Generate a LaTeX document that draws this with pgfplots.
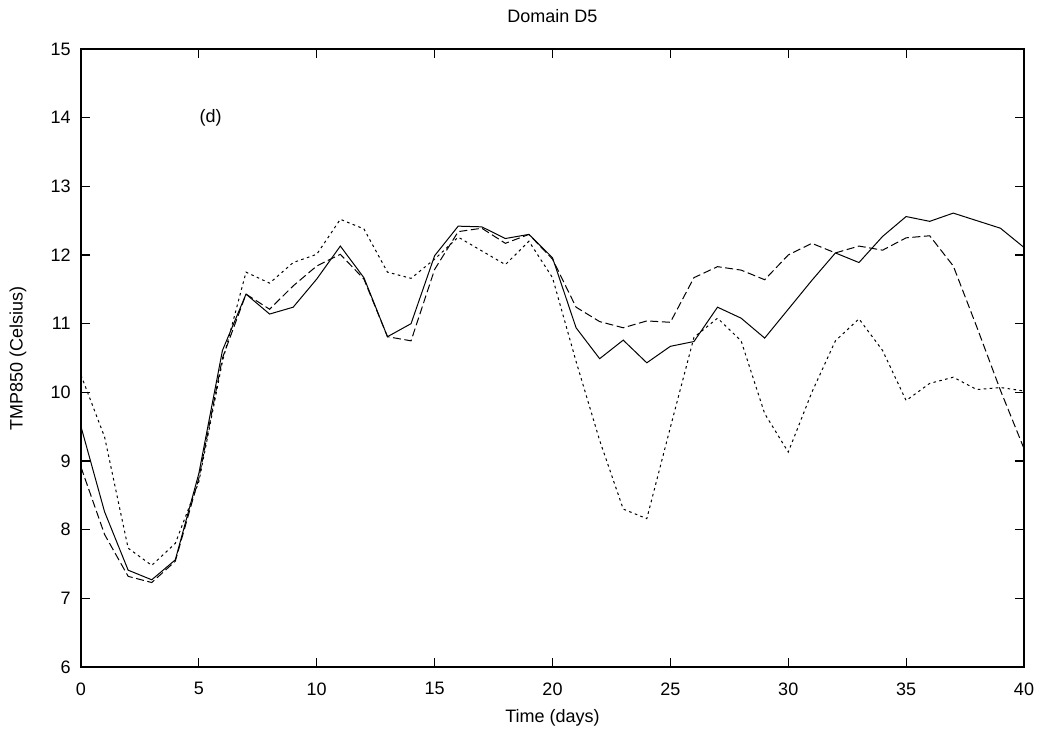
\documentclass[border=0pt]{standalone}
\usepackage{fontspec}
\setmainfont{Liberation Sans}
\usepackage{pgfplots}
\pgfplotsset{compat=1.18}
\usetikzlibrary{calc}
\begin{document}
\fontsize{9pt}{11pt}\selectfont
\begin{tikzpicture}
\begin{axis}[
  scale only axis,
  width=471.5pt, height=309pt,
  xmin=0, xmax=40, ymin=6, ymax=15,
  xtick={0,5,...,40}, ytick={6,7,...,15},
  tick align=inside, major tick length=4.5pt,
  axis line style={line width=0.6pt},
  tick style={line width=0.6pt, black},
  /pgf/number format/assume math mode=true,
  ticklabel style={font=\fontsize{9pt}{11pt}\selectfont},
  xticklabel style={yshift=-4.6pt},
  yticklabel style={xshift=-2pt},
  title={Domain D5},
  title style={at={(axis description cs:0.5,1.034)}, anchor=center, yshift=0pt},
  xlabel={Time (days)},
  xlabel style={at={(axis description cs:0.5,-0.0825)}, anchor=center},
  ylabel={TMP850 (Celsius)},
  ylabel style={at={(axis description cs:-0.0668,0.5)}, anchor=center},
]
\addplot[black, line width=0.5pt] coordinates {
(0,9.50) (1,8.26) (2,7.41) (3,7.27) (4,7.56) (5,8.82) (6,10.61) (7,11.43) (8,11.14) (9,11.24)
(10,11.65) (11,12.13) (12,11.67) (13,10.81) (14,11.00) (15,11.99) (16,12.42) (17,12.41) (18,12.24) (19,12.30)
(20,11.96) (21,10.94) (22,10.49) (23,10.76) (24,10.43) (25,10.67) (26,10.74) (27,11.24) (28,11.08) (29,10.79)
(30,11.21) (31,11.63) (32,12.03) (33,11.89) (34,12.27) (35,12.56) (36,12.49) (37,12.61) (38,12.50) (39,12.39)
(40,12.11)
};
\addplot[black, line width=0.5pt, dash pattern=on 4pt off 1.8pt] coordinates {
(0,8.91) (1,7.93) (2,7.32) (3,7.23) (4,7.54) (5,8.75) (6,10.50) (7,11.43) (8,11.21) (9,11.55)
(10,11.84) (11,12.01) (12,11.65) (13,10.81) (14,10.75) (15,11.79) (16,12.34) (17,12.39) (18,12.17) (19,12.30)
(20,11.94) (21,11.24) (22,11.03) (23,10.94) (24,11.04) (25,11.02) (26,11.67) (27,11.83) (28,11.78) (29,11.64)
(30,12.00) (31,12.17) (32,12.03) (33,12.13) (34,12.07) (35,12.25) (36,12.28) (37,11.84) (38,10.95) (39,10.03)
(40,9.18)
};
\addplot[black, line width=0.5pt, dash pattern=on 1.3pt off 1.7pt] coordinates {
(0,10.25) (1,9.35) (2,7.73) (3,7.48) (4,7.80) (5,8.70) (6,10.45) (7,11.75) (8,11.59) (9,11.89)
(10,12.01) (11,12.52) (12,12.38) (13,11.75) (14,11.66) (15,11.94) (16,12.26) (17,12.06) (18,11.86) (19,12.20)
(20,11.67) (21,10.45) (22,9.30) (23,8.30) (24,8.16) (25,9.49) (26,10.80) (27,11.08) (28,10.75) (29,9.69)
(30,9.13) (31,10.00) (32,10.75) (33,11.07) (34,10.61) (35,9.88) (36,10.13) (37,10.22) (38,10.04) (39,10.07)
(40,10.02)
};
\node at (axis cs:5.5,14) {(d)};
\end{axis}
\pgfresetboundingbox
\path[use as bounding box] ($(current axis.south west)+(-40.5pt,-34.5pt)$) rectangle ($(current axis.north east)+(10pt,24.5pt)$);
\end{tikzpicture}
\end{document}
